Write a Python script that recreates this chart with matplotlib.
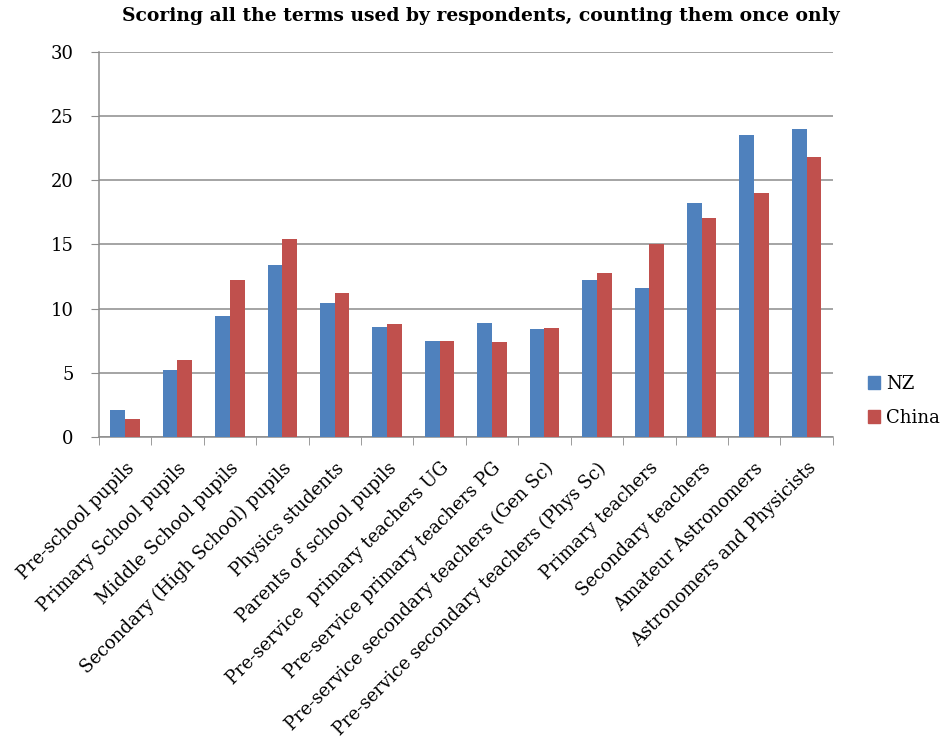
import numpy as np
import matplotlib
matplotlib.use("Agg")
import matplotlib.pyplot as plt
from matplotlib.patches import Patch

# группы респондентов и баллы
categories = [
    "Pre-school pupils",
    "Primary School pupils",
    "Middle School pupils",
    "Secondary (High School) pupils",
    "Physics students",
    "Parents of school pupils",
    "Pre-service  primary teachers UG",
    "Pre-service primary teachers PG",
    "Pre-service secondary teachers (Gen Sc)",
    "Pre-service secondary teachers (Phys Sc)",
    "Primary teachers",
    "Secondary teachers",
    "Amateur Astronomers",
    "Astronomers and Physicists",
]
nz = [2.1, 5.2, 9.4, 13.4, 10.4, 8.6, 7.5, 8.9, 8.4, 12.2, 11.6, 18.2, 23.5, 24.0]
china = [1.4, 6.0, 12.2, 15.4, 11.2, 8.8, 7.5, 7.4, 8.5, 12.8, 15.0, 17.1, 19.0, 21.8]
y_ticks = [0, 5, 10, 15, 20, 25, 30]

plt.rcParams['font.family'] = ['DejaVu Serif']

fig = plt.figure(figsize=(9.41, 7.38), dpi=100)
ax = fig.add_axes([0.105, 0.408, 0.78, 0.5215])

x = np.arange(len(categories))
w = 0.28
ax.bar(x - w / 2, nz, w, color='#4F81BD', label='NZ', zorder=3)
ax.bar(x + w / 2, china, w, color='#C0504D', label='China', zorder=3)

ax.set_xlim(-0.5, len(categories) - 0.5)
ax.set_ylim(0, 30)
ax.set_yticks(y_ticks)
ax.set_yticklabels([str(v) for v in y_ticks], fontsize=13)
ax.yaxis.grid(True, color='#8c8c8c', linewidth=1.1, zorder=0)
ax.tick_params(axis='y', length=6, color='#8c8c8c', pad=12)

# подписи категорий под углом, деления между группами
ax.set_xticks(x)
ax.set_xticklabels(categories, rotation=45, ha='right', rotation_mode='anchor', fontsize=13)
ax.tick_params(axis='x', length=0, pad=16)
ax.set_xticks(np.arange(-0.5, len(categories), 1), minor=True)
ax.tick_params(axis='x', which='minor', length=6, color='#8c8c8c')

for side in ['top', 'right']:
    ax.spines[side].set_visible(False)
for side in ['left', 'bottom']:
    ax.spines[side].set_color('#8c8c8c')
    ax.spines[side].set_linewidth(1.1)

ax.set_title('Scoring all the terms used by respondents, counting them once only',
             fontsize=13.5, fontweight='bold', pad=22, x=0.52)

handles = [Patch(color='#4F81BD', label='NZ'), Patch(color='#C0504D', label='China')]
fig.legend(handles=handles, loc='center left', bbox_to_anchor=(0.905, 0.457),
           frameon=False, fontsize=13, handlelength=0.7, handleheight=0.7,
           handletextpad=0.3, labelspacing=0.9)

fig.savefig('out.png', dpi=100)
